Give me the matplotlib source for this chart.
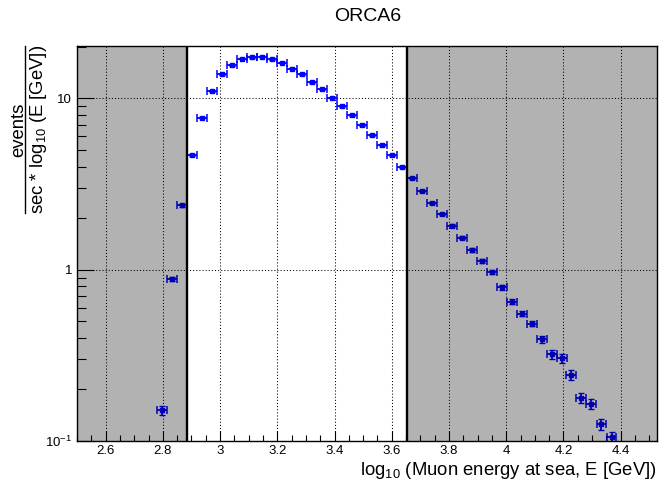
import numpy as np
import matplotlib
matplotlib.use('Agg')
import matplotlib.pyplot as plt
from matplotlib.lines import Line2D
from matplotlib.ticker import FixedLocator, FixedFormatter, LogLocator, MultipleLocator, NullFormatter

plt.rcParams['font.family'] = ['Liberation Sans', 'DejaVu Sans']
plt.rcParams['mathtext.fontset'] = 'custom'
plt.rcParams['mathtext.rm'] = 'Liberation Sans'
plt.rcParams['mathtext.it'] = 'Liberation Sans:italic'

# bin centres in log10(E/GeV), muon rate per bin, and its error
log_e = [2.798, 2.833, 2.868, 2.903, 2.938, 2.972, 3.007, 3.042, 3.077, 3.112,
         3.147, 3.182, 3.217, 3.252, 3.287, 3.321, 3.356, 3.391, 3.426, 3.461,
         3.496, 3.531, 3.566, 3.601, 3.636, 3.670, 3.705, 3.740, 3.775, 3.810,
         3.845, 3.880, 3.915, 3.949, 3.984, 4.019, 4.054, 4.089, 4.124, 4.159,
         4.194, 4.228, 4.263, 4.298, 4.333, 4.368]
rate = [0.151, 0.887, 2.37, 4.68, 7.7, 11.0, 13.8, 15.6, 17.0, 17.4,
        17.5, 16.9, 16.1, 14.9, 13.8, 12.4, 11.3, 10.1, 9.0, 7.96,
        7.0, 6.07, 5.34, 4.64, 3.97, 3.41, 2.89, 2.45, 2.11, 1.81,
        1.54, 1.30, 1.12, 0.973, 0.789, 0.651, 0.552, 0.485, 0.392, 0.321,
        0.304, 0.242, 0.179, 0.165, 0.126, 0.105]
rate_err = [0.009, 0.024, 0.040, 0.056, 0.072, 0.086, 0.097, 0.10, 0.11, 0.11,
            0.11, 0.11, 0.10, 0.10, 0.097, 0.092, 0.087, 0.083, 0.078, 0.073,
            0.069, 0.064, 0.060, 0.056, 0.052, 0.048, 0.044, 0.041, 0.038, 0.035,
            0.032, 0.030, 0.028, 0.026, 0.023, 0.021, 0.019, 0.018, 0.019, 0.018,
            0.0175, 0.016, 0.0116, 0.0114, 0.0093, 0.008]
bin_half = 0.0174

# selected energy window (outside is shaded)
cut_lo = 2.884
cut_hi = 3.652

xticks = [2.6, 2.8, 3.0, 3.2, 3.4, 3.6, 3.8, 4.0, 4.2, 4.4]
xtick_labels = ['2.6', '2.8', '3', '3.2', '3.4', '3.6', '3.8', '4', '4.2', '4.4']
yticks = [0.1, 1, 10]
ytick_labels = [r'$\mathregular{10^{-1}}$', '1', '10']

x_min, x_max = 2.5, 4.528
y_min, y_max = 0.1, 20.2

fig = plt.figure(figsize=(6.59, 4.88), dpi=100)
ax = fig.add_axes([0.1168, 0.0963, 0.8806, 0.8094])

# horizontal (bin width) bars, then vertical stat errors with smaller caps
ax.errorbar(log_e, rate, xerr=np.full(len(log_e), bin_half),
            fmt='s', color='blue', markersize=2.2, elinewidth=1.3,
            capsize=3.2, capthick=1.1, zorder=2)
ax.errorbar(log_e, rate, yerr=rate_err, fmt='none', ecolor='blue',
            elinewidth=1.3, capsize=2.2, capthick=1.0, zorder=2)

ax.set_yscale('log')
ax.set_xlim(x_min, x_max)
ax.set_ylim(y_min, y_max)

# shaded regions outside the cut window
ax.axvspan(x_min, cut_lo, color='black', alpha=0.3, lw=0, zorder=3)
ax.axvspan(cut_hi, x_max, color='black', alpha=0.3, lw=0, zorder=3)
ax.axvline(cut_lo, color='black', lw=1.7, zorder=4)
ax.axvline(cut_hi, color='black', lw=1.7, zorder=4)

ax.xaxis.set_major_locator(FixedLocator(xticks))
ax.xaxis.set_major_formatter(FixedFormatter(xtick_labels))
ax.xaxis.set_minor_locator(MultipleLocator(0.05))
ax.yaxis.set_major_locator(FixedLocator(yticks))
ax.yaxis.set_major_formatter(FixedFormatter(ytick_labels))
ax.yaxis.set_minor_locator(LogLocator(base=10, subs=range(2, 10)))
ax.yaxis.set_minor_formatter(NullFormatter())

ax.tick_params(which='both', direction='in', top=False, right=False, color='black')
ax.tick_params(axis='x', which='major', length=7.5, width=0.8, pad=3, labelsize=9.5)
ax.tick_params(axis='x', which='minor', length=4, width=0.8)
ax.tick_params(axis='y', which='major', length=12, width=0.8, pad=3.6, labelsize=9.5)
ax.tick_params(axis='y', which='minor', length=6.5, width=0.8)
ax.grid(which='major', color='black', linestyle=(0, (1, 2)), linewidth=0.75)
for sp in ax.spines.values():
    sp.set_linewidth(1.0)

fig.text(0.5572, 0.9576, 'ORCA6', ha='center', va='baseline', fontsize=14)

fig.text(0.9965, 0.0266, r'log$_{\mathregular{10}}$ (Muon energy at sea, E [GeV])',
         ha='right', va='baseline', fontsize=13.3)

# y label as a ROOT-style fraction
fig.text(23 / 659, 1 - 129.5 / 488, 'events', rotation=90, rotation_mode='anchor',
         ha='center', va='baseline', fontsize=13.3)
fig.add_artist(Line2D([25 / 659, 25 / 659], [1 - 46 / 488, 1 - 213 / 488],
                      color='black', lw=1.0, transform=fig.transFigure))
fig.text(43 / 659, 1 - 45 / 488, r'sec * log$_{\mathregular{10}}$ (E [GeV])',
         rotation=90, rotation_mode='anchor', ha='right', va='baseline', fontsize=13.3)

plt.savefig('out.png', dpi=100)
